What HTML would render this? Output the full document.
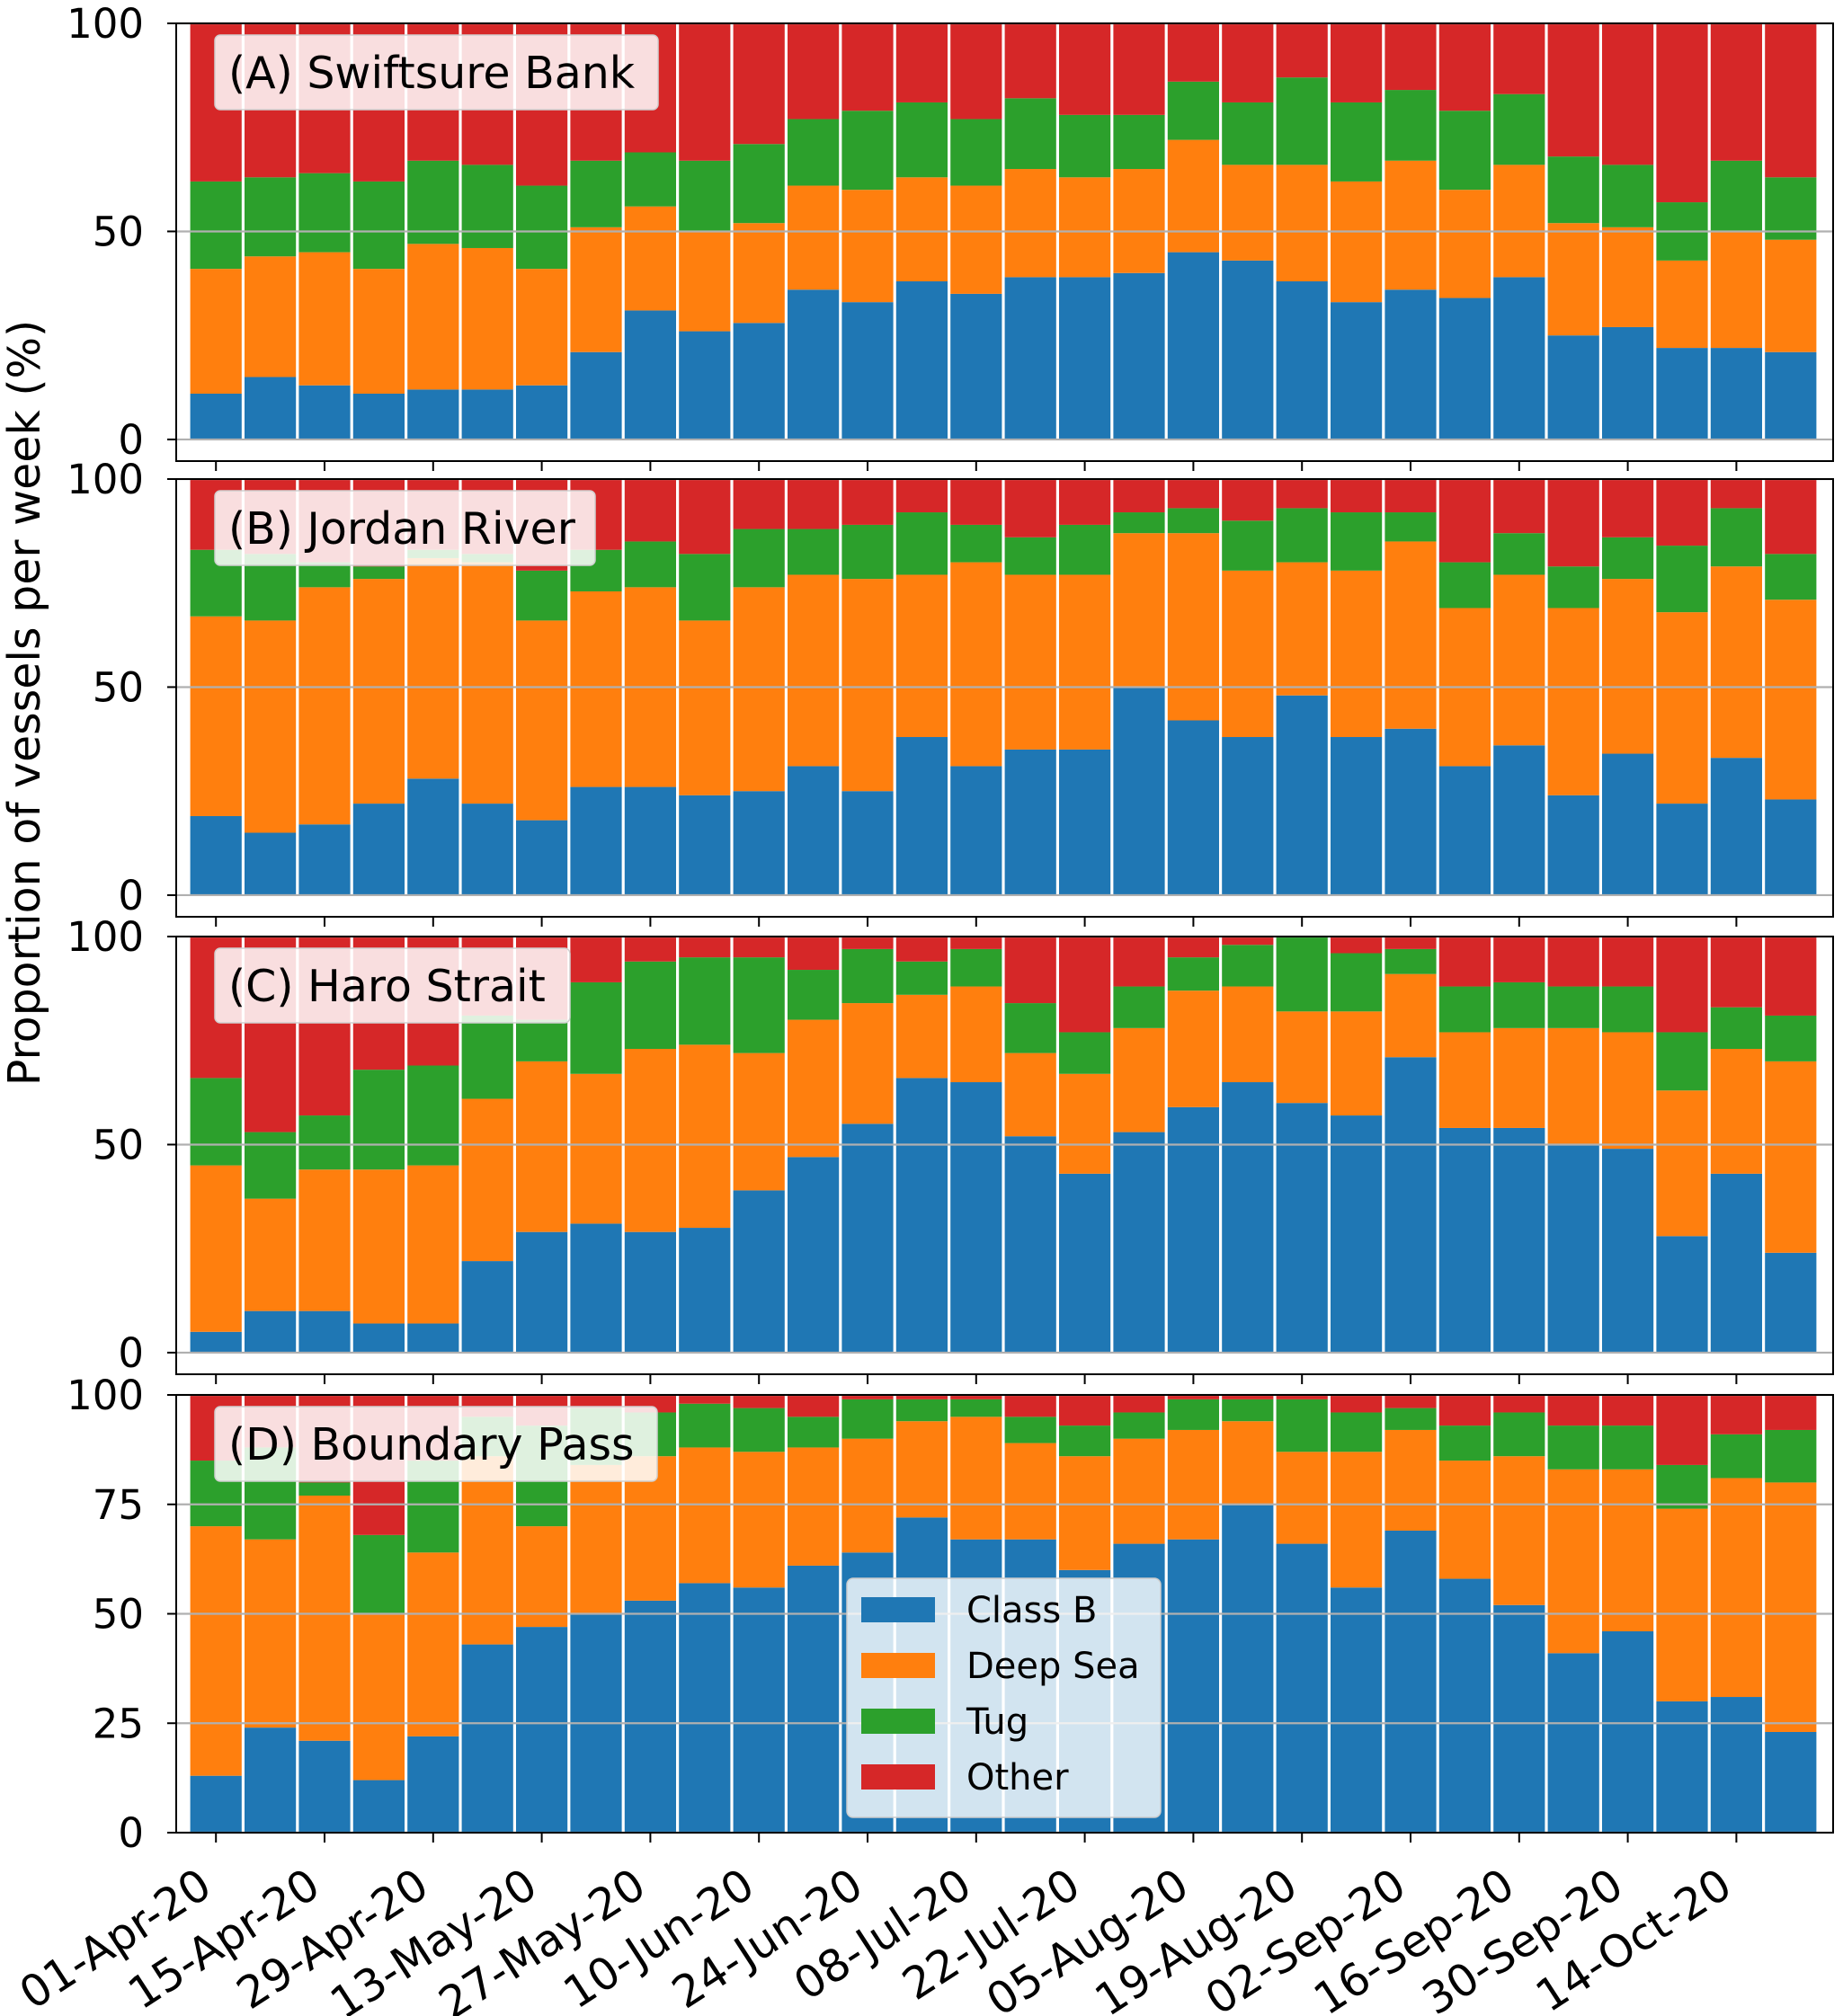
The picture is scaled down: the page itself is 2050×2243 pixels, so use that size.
<!DOCTYPE html>
<html><head><meta charset="utf-8"><style>
html,body{margin:0;padding:0;background:#fff;}
svg{display:block;font-family:"DejaVu Sans","Liberation Sans",sans-serif;}
</style></head>
<body>
<svg id="chart" width="2050" height="2243" viewBox="0 0 2050 2243" xmlns="http://www.w3.org/2000/svg">
<rect x="0" y="0" width="2050" height="2243" fill="#fff"/>
<text transform="translate(44,782) rotate(-90)" text-anchor="middle" font-size="49" fill="#000">Proportion of vessels per week (%)</text>
</svg>
<script>
const weekLabels = ["01-Apr-20","15-Apr-20","29-Apr-20","13-May-20","27-May-20","10-Jun-20","24-Jun-20","08-Jul-20","22-Jul-20","05-Aug-20","19-Aug-20","02-Sep-20","16-Sep-20","30-Sep-20","14-Oct-20"];
const panelTitles = ["(A) Swiftsure Bank","(B) Jordan River","(C) Haro Strait","(D) Boundary Pass"];
const seriesNames = ["Class B","Deep Sea","Tug","Other"];

const aClassB = [11,15,13,11,12,12,13,21,31,26,28,36,33,38,35,39,39,40,45,43,38,33,36,34,39,25,27,22,22,21];
const aDeepSea = [30,29,32,30,35,34,28,30,25,24,24,25,27,25,26,26,24,25,27,23,28,29,31,26,27,27,24,21,28,27];
const aTug = [21,19,19,21,20,20,20,16,13,17,19,16,19,18,16,17,15,13,14,15,21,19,17,19,17,16,15,14,17,15];
const aOther = [38,37,36,38,33,34,39,33,31,33,29,23,21,19,23,18,22,22,14,19,13,19,16,21,17,32,34,43,33,37];

const bClassB = [19,15,17,22,28,22,18,26,26,24,25,31,25,38,31,35,35,50,42,38,48,38,40,31,36,24,34,22,33,23];
const bDeepSea = [48,51,57,54,53,58,48,47,48,42,49,46,51,39,49,42,42,37,45,40,32,40,45,38,41,45,42,46,46,48];
const bTug = [16,16,6,3,2,2,12,10,11,16,14,11,13,15,9,9,12,5,6,12,13,14,7,11,10,10,10,16,14,11];
const bOther = [17,18,20,21,17,18,22,17,15,18,12,12,11,8,11,14,11,8,7,10,7,8,8,20,13,21,14,16,7,18];

const cClassB = [5,10,10,7,7,22,29,31,29,30,39,47,55,66,65,52,43,53,59,65,60,57,71,54,54,50,49,28,43,24];
const cDeepSea = [40,27,34,37,38,39,41,36,44,44,33,33,29,20,23,20,24,25,28,23,22,25,20,23,24,28,28,35,30,46];
const cTug = [21,16,13,24,24,20,10,22,21,21,23,12,13,8,9,12,10,10,8,10,18,14,6,11,11,10,11,14,10,11];
const cOther = [34,47,43,32,31,19,20,11,6,5,5,8,3,6,3,16,23,12,5,2,0,4,3,12,11,12,12,23,17,19];

const dClassB = [13,24,21,12,22,43,47,50,53,57,56,61,64,72,67,67,60,66,67,75,66,56,69,58,52,41,46,30,31,23];
const dDeepSea = [57,43,56,38,42,43,23,34,33,31,31,27,26,22,28,22,26,24,25,19,21,31,23,27,34,42,37,44,50,57];
const dTug = [15,21,3,18,21,9,23,13,10,10,10,7,9,5,4,6,7,6,7,5,12,9,5,8,10,10,10,10,10,12];
const dOther = [15,12,20,32,15,5,7,3,4,2,3,5,1,1,1,5,7,4,1,1,1,4,3,7,4,7,7,16,9,8];

const aTicks = [0,50,100];
const dTicks = [0,25,50,75,100];

const NS = "http://www.w3.org/2000/svg";
const svg = document.getElementById("chart");
const colors = ["#1f77b4","#ff7f0e","#2ca02c","#d62728"];
const X0 = 196, X1 = 2039, BAR_START = 210, SLOT = 60.4;
const panelTops = [26,533,1042,1552];
const PH = 487;
const panelYMin = [-5.2,-5.2,-5.2,0];
const boxWidths = [493,423,395,492];
const panels = [
  [aClassB,aDeepSea,aTug,aOther],
  [bClassB,bDeepSea,bTug,bOther],
  [cClassB,cDeepSea,cTug,cOther],
  [dClassB,dDeepSea,dTug,dOther]
];
const panelTicks = [aTicks,aTicks,aTicks,dTicks];

function mk(tag, attrs, parent){
  const e = document.createElementNS(NS, tag);
  for (const k in attrs) e.setAttribute(k, attrs[k]);
  (parent||svg).appendChild(e);
  return e;
}
function xCenter(i){ return BAR_START + SLOT*(i+0.5); }

panels.forEach((series, p) => {
  const top = panelTops[p], ymin = panelYMin[p];
  const y = v => top + (100 - v) / (100 - ymin) * PH;
  const g = mk("g", {});
  
  
  const n = series[0].length;
  for (let i = 0; i < n; i++) {
    let base = 0;
    series.forEach((vals, s) => {
      const v = vals[i];
      if (v > 0) {
        const r = mk("rect", {x: BAR_START + SLOT*i + 1.6, y: y(base+v), width: SLOT-3.2, height: y(base)-y(base+v), fill: colors[s]}, g);
        
        
      }
      base += v;
    });
  }
  panelTicks[p].forEach(t => {
    const gl = mk("line", {x1: X0, x2: X1, y1: y(t), y2: y(t), stroke: "#b0b0b0", "stroke-width": 2.2}, g);
    
    
    const tk = mk("line", {x1: X0-10, x2: X0, y1: y(t), y2: y(t), stroke: "#000", "stroke-width": 2}, g);
    
    
    const tl = mk("text", {x: X0-36, y: y(t)+16, "text-anchor": "end", "font-size": 45, fill: "#000"}, g);
    
    
    tl.textContent = t;
  });
  const fr = mk("rect", {x: X0, y: top, width: X1-X0, height: PH, fill: "none", stroke: "#000", "stroke-width": 2}, g);
  
  
  weekLabels.forEach((lab, k) => {
    const xc = xCenter(k*2);
    const xt = mk("line", {x1: xc, x2: xc, y1: top+PH, y2: top+PH+11, stroke: "#000", "stroke-width": 2}, g);
    
    
    if (p === 3) {
      const tx = mk("text", {transform: "translate(" + (xc-22) + "," + (top+PH+36) + ") rotate(-33)", "text-anchor": "end", "font-size": 49, fill: "#000", dy: "0.75em"}, g);
      
      
      tx.textContent = lab;
    }
  });
  const bx = mk("rect", {x: 239, y: top+13, width: boxWidths[p], height: 83, rx: 6, fill: "#fff", "fill-opacity": 0.85, stroke: "#d0d0d0", "stroke-width": 1.5}, g);
  
  
  const tt = mk("text", {x: 254, y: top+72, "font-size": 49, fill: "#000"}, g);
  
  
  tt.textContent = panelTitles[p];
});

const lg = mk("g", {});


const lbox = mk("rect", {x: 942, y: 1756, width: 349, height: 266, rx: 7, fill: "#fff", "fill-opacity": 0.8, stroke: "#cccccc", "stroke-width": 1.5}, lg);


seriesNames.forEach((nm, s) => {
  const cy = 1791 + s*62;
  const pr = mk("rect", {x: 958, y: cy-14, width: 82, height: 28, fill: colors[s]}, lg);
  
  
  const lt = mk("text", {x: 1075, y: cy+14, "font-size": 40, fill: "#000"}, lg);
  
  
  lt.textContent = nm;
});
</script>
</body></html>
